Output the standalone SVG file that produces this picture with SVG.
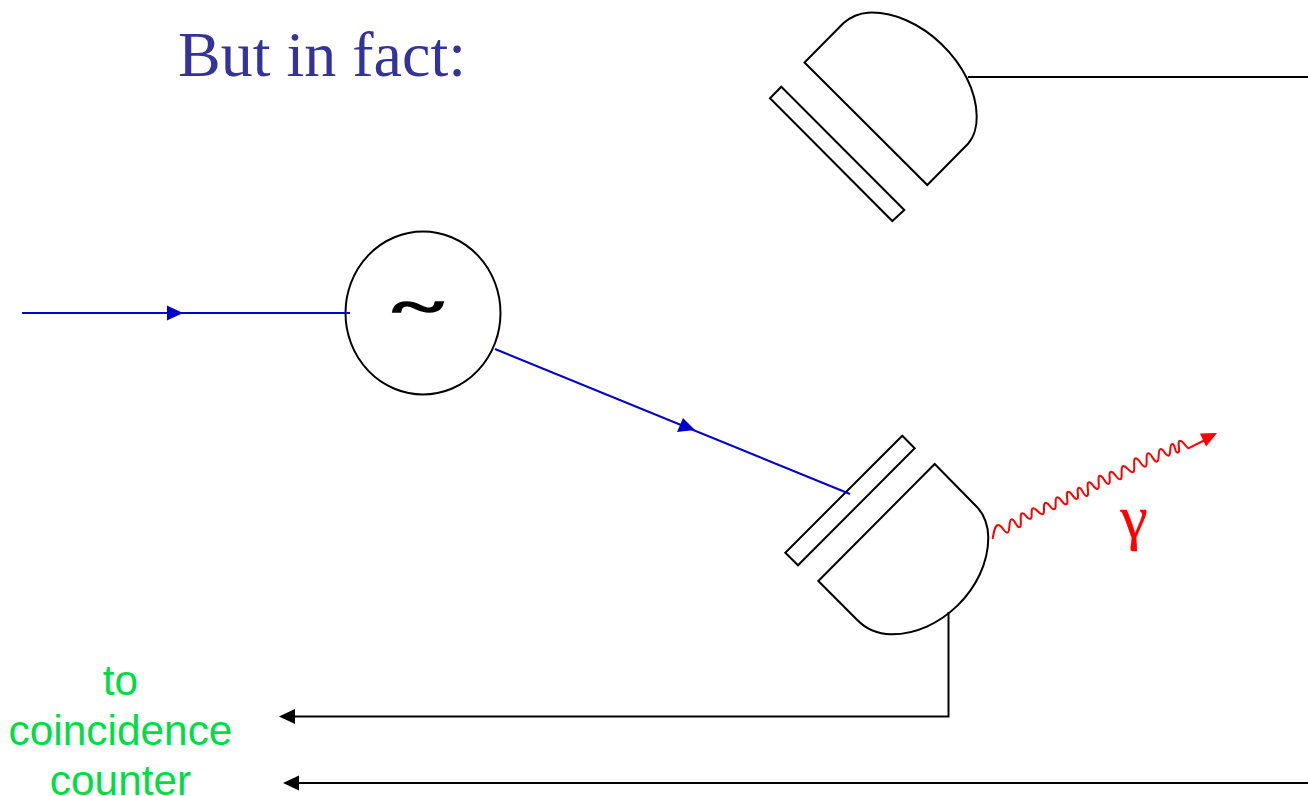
<svg xmlns="http://www.w3.org/2000/svg" width="1308" height="796" viewBox="0 0 1308 796">
<style>
.o{fill:#fff;stroke:#000;stroke-width:2;stroke-linejoin:miter}
.k{fill:none;stroke:#000;stroke-width:2}
.b{fill:none;stroke:#0000cc;stroke-width:2}
.r{fill:none;stroke:#f00;stroke-width:2;stroke-linejoin:round;stroke-linecap:round}
.g{font-family:"Liberation Sans",Arial,sans-serif;font-size:42.4px;fill:#00dd44;text-anchor:middle}
</style>
<rect width="1308" height="796" fill="#fff"/>
<text id="title" x="178" y="76" font-family="'Liberation Serif','Times New Roman',serif" font-size="64" fill="#333399">But in fact:</text>
<g id="source">
<ellipse class="o" cx="423" cy="313" rx="77.500" ry="81.500"/>
<text transform="translate(418 324) scale(1.02 .56)" x="0" y="0" font-family="'Liberation Serif',serif" font-weight="bold" font-size="96" stroke="#000" stroke-width="2.500" text-anchor="middle">~</text>
</g>
<g id="detector-top">
<path class="o" d="M804.500 62.500L927.300 185L968.300 143.500C974 137 977 126 976.700 116C976 65 920 10 868 12.700C860 13 850 17 843.300 23.300Z"/>
<path class="o" d="M781.300 86.700L904.300 210L892.300 221L770 98.300Z"/>
</g>
<g id="detector-bottom">
<path class="o" d="M934.700 464L976.700 506.700C984 514 988.500 526 988.300 538C988 588 940 635 891 634.300C878 634 866 629 857.300 620L818.300 581Z"/>
<path class="o" d="M902.300 435.700L914.700 448.300L798 565.300L785.300 552.700Z"/>
</g>
<g id="connectors">
<path class="k" d="M968 77H1308"/>
<path class="k" d="M948.500 612V716.500H292"/>
<path d="M279 716.500L295 709V724Z"/>
<path class="k" d="M1308 783H296"/>
<path d="M283 783L299 775.500V790.500Z"/>
<path class="b" d="M22 313H350"/>
<path d="M183 313L167 305.500V320.500Z" fill="#0000cc"/>
<path class="b" d="M495 349L850 494"/>
<path d="M695 430L683 418L677 432Z" fill="#0000cc"/>
<path class="r" d="M992.700 538.300C994 531 995 525 998.300 525C1002 525 1004 532.700 1007.300 532.700S1008.200 519.300 1011.700 519.300S1015.800 527.300 1019.300 527.300S1018.800 513.300 1022.300 513.300S1026.500 519 1030 519S1029.800 508.300 1033.300 508.300S1038.800 514.300 1042.300 514.300S1042.200 502.700 1045.700 502.700S1050.500 509.300 1054 509.300S1053.800 497.300 1057.300 497.300S1062.500 504.300 1066 504.300S1064.800 491.700 1068.300 491.700S1073.200 499 1076.700 499S1075.500 487.700 1079 487.700S1083.200 496 1086.700 496S1085.500 482.300 1089 482.300S1093.800 489 1097.300 489S1096.500 475.700 1100 475.700S1104.800 484 1108.300 484S1107.500 471.700 1111 471.700S1116.500 479.300 1120 479.300S1119.800 466 1123.300 466S1129.200 472.300 1132.700 472.300S1132.200 458.300 1135.700 458.300S1141.500 466.700 1145 466.700S1144.800 453.300 1148.300 453.300S1153.200 461.700 1156.700 461.700S1157.200 449 1160.700 449S1164.800 455.700 1168.300 455.700S1168.800 444 1172.300 444S1174.200 452.700 1177.700 452.700S1176.500 440.700 1180 440.700C1183 440.700 1185 446 1188.300 448.300L1204 440.500"/>
<path d="M1217 433L1200 433.500L1206 446.500Z" fill="#f00"/>
</g>
<text id="gamma" x="1134" y="538" font-family="'Liberation Serif',serif" font-size="62" fill="#f00" stroke="#f00" stroke-width=".3" text-anchor="middle">γ</text>
<g id="label">
<text class="g" x="120.500" y="695">to</text>
<text class="g" x="120.500" y="745">coincidence</text>
<text class="g" x="120.500" y="795">counter</text>
</g>
</svg>
